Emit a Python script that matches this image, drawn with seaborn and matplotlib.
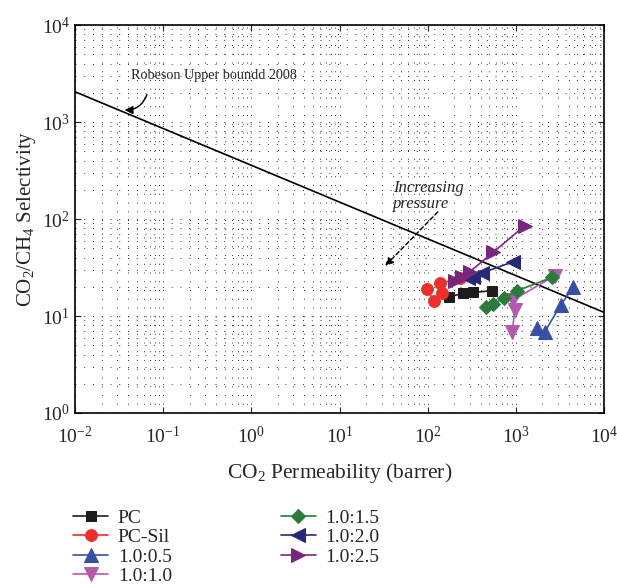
import matplotlib
matplotlib.use("Agg")
import matplotlib.pyplot as plt
import seaborn as sns
from matplotlib.ticker import LogLocator, NullFormatter

sns.set_style("ticks")
plt.rcParams["font.family"] = ["Liberation Serif", "DejaVu Serif"]
plt.rcParams["mathtext.fontset"] = "custom"
plt.rcParams["mathtext.rm"] = "Liberation Serif"
plt.rcParams["mathtext.it"] = "Liberation Serif:italic"

# CO2 permeability (barrer) and CO2/CH4 selectivity for each membrane
series_names = ["PC", "PC-Sil", "1.0:0.5", "1.0:1.0", "1.0:1.5", "1.0:2.0", "1.0:2.5"]

pc_perm = [175, 253, 328, 530]
pc_sel = [15.8, 17.1, 17.5, 18.2]

pcsil_perm = [97, 118, 144, 137, 232]
pcsil_sel = [19.0, 14.4, 17.4, 21.7, 24.5]

r05_perm = [1718, 2133, 3237, 4466]
r05_sel = [7.5, 6.9, 13.0, 19.8]

r10_perm = [908, 975, 931, 2767]
r10_sel = [6.8, 11.5, 14.6, 26.0]

r15_perm = [457, 553, 731, 1035, 2581]
r15_sel = [12.5, 13.3, 15.2, 18.2, 25.1]

r20_perm = [288, 328, 408, 932]
r20_sel = [24.5, 25.4, 27.6, 36.3]

r25_perm = [203, 242, 301, 553, 1265]
r25_sel = [22.9, 25.4, 28.6, 45.4, 85.3]

# Robeson 2008 upper bound end points
robeson_perm = [1e-2, 1e4]
robeson_sel = [2050, 10.9]

x_ticks = [1e-2, 1e-1, 1e0, 1e1, 1e2, 1e3, 1e4]
y_ticks = [1e0, 1e1, 1e2, 1e3, 1e4]

perms = [pc_perm, pcsil_perm, r05_perm, r10_perm, r15_perm, r20_perm, r25_perm]
sels = [pc_sel, pcsil_sel, r05_sel, r10_sel, r15_sel, r20_sel, r25_sel]
colors = ["#1c1c1c", "#ec2f2b", "#3650a6", "#b45aab", "#2c7a3c", "#282878", "#78267e"]
markers = ["s", "o", "^", "v", "D", "<", ">"]
msizes = [7.5, 8.5, 9.5, 9.5, 7, 9.5, 9.5]

fig = plt.figure(figsize=(6.17, 5.84), dpi=100)
ax = fig.add_axes([75 / 617, 1 - 413 / 584, 529 / 617, 388 / 584])
ax.set_xscale("log")
ax.set_yscale("log")
ax.set_xlim(1e-2, 1e4)
ax.set_ylim(1e0, 1e4)

ax.grid(True, which="both", color="#333333", linestyle=(0, (1, 8)), linewidth=0.7)
ax.set_axisbelow(True)

sns.lineplot(x=robeson_perm, y=robeson_sel, color="black", linewidth=1.2, ax=ax, legend=False)

for name, p, s, c, m, ms in zip(series_names, perms, sels, colors, markers, msizes):
    sns.lineplot(x=p, y=s, sort=False, estimator=None, color=c, marker=m,
                 markersize=ms, markeredgecolor=c, linewidth=1.2, label=name, ax=ax)

ax.set_xticks(x_ticks)
ax.set_yticks(y_ticks)
ax.xaxis.set_minor_locator(LogLocator(base=10, subs=range(2, 10), numticks=20))
ax.yaxis.set_minor_locator(LogLocator(base=10, subs=range(2, 10), numticks=20))
ax.xaxis.set_minor_formatter(NullFormatter())
ax.yaxis.set_minor_formatter(NullFormatter())
ax.tick_params(which="both", direction="in", top=True, right=True, labelsize=14)
ax.tick_params(which="major", length=4, width=0.8)
ax.tick_params(which="minor", length=0)
ax.tick_params(axis="x", which="major", pad=9)
for sp in ax.spines.values():
    sp.set_linewidth(1.2)
    sp.set_color("black")

ax.set_xlabel("CO$_2$ Permeability (barrer)", fontsize=15.5, labelpad=10)
ax.set_ylabel("CO$_2$/CH$_4$ Selectivity", fontsize=15, labelpad=3)

# upper bound label with curved pointer
ax.text(0.0431, 3050, "Robeson Upper boundd 2008", fontsize=10.2, ha="left", va="center")
ax.annotate("", xy=(0.034, 1330), xytext=(0.067, 2040),
            arrowprops=dict(arrowstyle="-|>", color="black", lw=1.0,
                            connectionstyle="arc3,rad=-0.4", mutation_scale=12))

# pressure trend
ax.text(40.3, 173, "Increasing\npressure", fontsize=12, style="italic",
        ha="left", va="center", linespacing=1.05)
ax.annotate("", xy=(31.3, 31.3), xytext=(137, 124),
            arrowprops=dict(arrowstyle="-|>", color="black", lw=1.0,
                            linestyle=(0, (3, 2)), mutation_scale=12))

ax.get_legend().remove()
handles, labels = ax.get_legend_handles_labels()
handles = handles[-7:]
labels = labels[-7:]
fig.legend(handles, labels, loc="upper left", bbox_to_anchor=(73 / 617, 1 - 509 / 584),
           ncol=2, frameon=False, fontsize=14, handlelength=1.8, handletextpad=0.5,
           columnspacing=5.6, labelspacing=0.1, borderpad=0, borderaxespad=0)

fig.savefig("out.png", dpi=100)
